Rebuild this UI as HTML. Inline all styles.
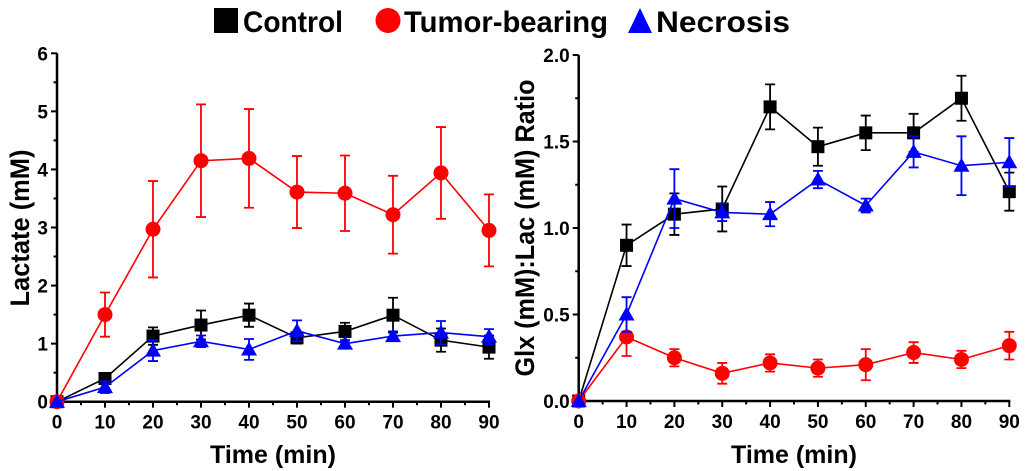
<!DOCTYPE html>
<html><head><meta charset="utf-8"><style>
body{margin:0;background:#fff;}
svg{display:block;font-family:"Liberation Sans",sans-serif;font-weight:bold;}
</style></head><body>
<svg id="fig" width="1025" height="471" viewBox="0 0 1025 471" xmlns="http://www.w3.org/2000/svg">
<g>
 <rect x="214" y="8" width="24" height="25" fill="#000"/>
 <text x="243" y="32" font-size="30" textLength="100" lengthAdjust="spacingAndGlyphs">Control</text>
 <circle cx="388" cy="20.5" r="12.5" fill="#f00"/>
 <text x="404" y="32" font-size="30" textLength="204" lengthAdjust="spacingAndGlyphs">Tumor-bearing</text>
 <polygon points="640,8 652,33 628,33" fill="#00f"/>
 <text x="656" y="32" font-size="30" textLength="134" lengthAdjust="spacingAndGlyphs">Necrosis</text>
</g>
<g id="left"></g>
<g id="right"></g>
</svg>
<script>
const times=[0,10,20,30,40,50,60,70,80,90];
const lacControl=[0,0.4,1.13,1.32,1.49,1.1,1.21,1.49,1.06,0.94];
const lacControlErr=[0,0.05,0.15,0.25,0.2,0.1,0.15,0.3,0.2,0.2];
const lacTumor=[0,1.5,2.97,4.15,4.19,3.61,3.59,3.22,3.94,2.95];
const lacTumorErr=[0,0.38,0.83,0.97,0.85,0.62,0.65,0.67,0.79,0.62];
const lacNecrosis=[0,0.25,0.88,1.04,0.9,1.22,1.0,1.13,1.19,1.12];
const lacNecrosisErr=[0,0.1,0.18,0.1,0.18,0.18,0.05,0.08,0.2,0.13];
const ratControl=[0,0.9,1.08,1.11,1.7,1.47,1.55,1.55,1.75,1.21];
const ratControlErr=[0,0.12,0.12,0.13,0.13,0.11,0.1,0.11,0.13,0.11];
const ratTumor=[0,0.37,0.25,0.16,0.22,0.19,0.21,0.28,0.24,0.32];
const ratTumorErr=[0,0.11,0.05,0.06,0.05,0.05,0.09,0.06,0.05,0.08];
const ratNecrosis=[0,0.5,1.17,1.09,1.08,1.28,1.13,1.44,1.36,1.38];
const ratNecrosisErr=[0,0.1,0.17,0.05,0.07,0.05,0.04,0.09,0.17,0.14];
const xTicks=[0,10,20,30,40,50,60,70,80,90];
const lacYTicks=[0,1,2,3,4,5,6];
const lacYLabels=["0","1","2","3","4","5","6"];
const ratYTicks=[0,0.5,1,1.5,2];
const ratYLabels=["0.0","0.5","1.0","1.5","2.0"];

const NS="http://www.w3.org/2000/svg";
function mk(parent,tag,attrs){const e=document.createElementNS(NS,tag);for(const k in attrs)e.setAttribute(k,attrs[k]);parent.appendChild(e);return e;}

function chart(g,cfg){
 const X=v=>cfg.x0+(v-0)/90*(cfg.x1-cfg.x0);
 const Y=v=>cfg.y0-(v/cfg.ymax)*(cfg.y0-cfg.y1);
 let ax=mk(g,'line',{x1:cfg.x0,y1:cfg.y0,x2:cfg.x1+1,y2:cfg.y0,stroke:'#000','stroke-width':2.5});
 
 
 let ay=mk(g,'line',{x1:cfg.x0,y1:cfg.y0+1,x2:cfg.x0,y2:cfg.y1,stroke:'#000','stroke-width':2.5});
 
 
 xTicks.forEach((t,i)=>{
  mk(g,'line',{x1:X(t),y1:cfg.y0,x2:X(t),y2:cfg.y0+6,stroke:'#000','stroke-width':2});
  if(i<xTicks.length-1)mk(g,'line',{x1:X(t+5),y1:cfg.y0,x2:X(t+5),y2:cfg.y0+3.5,stroke:'#000','stroke-width':2});
  const tx=mk(g,'text',{x:X(t),y:cfg.y0+27,'font-size':19,'text-anchor':'middle'});
  tx.textContent=String(t);
  
  
 });
 cfg.yTicks.forEach((t,i)=>{
  mk(g,'line',{x1:cfg.x0,y1:Y(t),x2:cfg.x0-6,y2:Y(t),stroke:'#000','stroke-width':2});
  if(i<cfg.yTicks.length-1){const m=(t+cfg.yTicks[i+1])/2;mk(g,'line',{x1:cfg.x0,y1:Y(m),x2:cfg.x0-3.5,y2:Y(m),stroke:'#000','stroke-width':2});}
  const ty=mk(g,'text',{x:cfg.x0-9,y:Y(t)+7,'font-size':19,'text-anchor':'end'});
  ty.textContent=cfg.yLabels[i];
  
  
 });
 const xt=mk(g,'text',{x:(cfg.x0+cfg.x1)/2,y:463,'font-size':25,'text-anchor':'middle'});
 xt.textContent='Time (min)';
 
 
 const yt=mk(g,'text',{x:0,y:0,'font-size':27,'text-anchor':'middle',textLength:cfg.ytl,lengthAdjust:'spacingAndGlyphs',transform:`translate(${cfg.ytx},${cfg.yty}) rotate(-90)`});
 yt.textContent=cfg.ytitle;
 
 
 cfg.series.forEach(s=>{
  const sg=mk(g,'g',{});
  
  
  mk(sg,'polyline',{points:times.map((t,i)=>X(t)+','+Y(s.v[i])).join(' '),fill:'none',stroke:s.c,'stroke-width':1.6});
  times.forEach((t,i)=>{
   if(s.e[i]>0){
    const x=X(t),a=Y(s.v[i]+s.e[i]),b=Y(s.v[i]-s.e[i]);
    mk(sg,'path',{d:`M${x},${a}V${b}M${x-5},${a}H${x+5}M${x-5},${b}H${x+5}`,stroke:s.c,'stroke-width':1.8,fill:'none'});
   }
  });
  times.forEach((t,i)=>{
   const x=X(t),y=Y(s.v[i]);let m;
   if(s.shape==='sq')m=mk(sg,'rect',{x:x-6.5,y:y-6.5,width:13,height:13,fill:s.c});
   else if(s.shape==='ci')m=mk(sg,'circle',{cx:x,cy:y,r:7.5,fill:s.c});
   else m=mk(sg,'polygon',{points:`${x},${y-8} ${x+8},${y+6} ${x-8},${y+6}`,fill:s.c});
   
   
  });
 });
}
chart(document.getElementById('left'),{x0:57,x1:489,y0:401.7,y1:53.3,ymax:6,yTicks:lacYTicks,yLabels:lacYLabels,ytitle:'Lactate (mM)',ytx:29,yty:228,ytl:157,
 series:[{name:'control',v:lacControl,e:lacControlErr,c:'#000',shape:'sq'},{name:'tumor-bearing',v:lacTumor,e:lacTumorErr,c:'#f00',shape:'ci'},{name:'necrosis',v:lacNecrosis,e:lacNecrosisErr,c:'#00f',shape:'tr'}]});
chart(document.getElementById('right'),{x0:578.7,x1:1009.3,y0:401,y1:55,ymax:2,yTicks:ratYTicks,yLabels:ratYLabels,ytitle:'Glx (mM):Lac (mM) Ratio',ytx:534,yty:228,ytl:297,
 series:[{name:'control',v:ratControl,e:ratControlErr,c:'#000',shape:'sq'},{name:'tumor-bearing',v:ratTumor,e:ratTumorErr,c:'#f00',shape:'ci'},{name:'necrosis',v:ratNecrosis,e:ratNecrosisErr,c:'#00f',shape:'tr'}]});
</script>
</body></html>
